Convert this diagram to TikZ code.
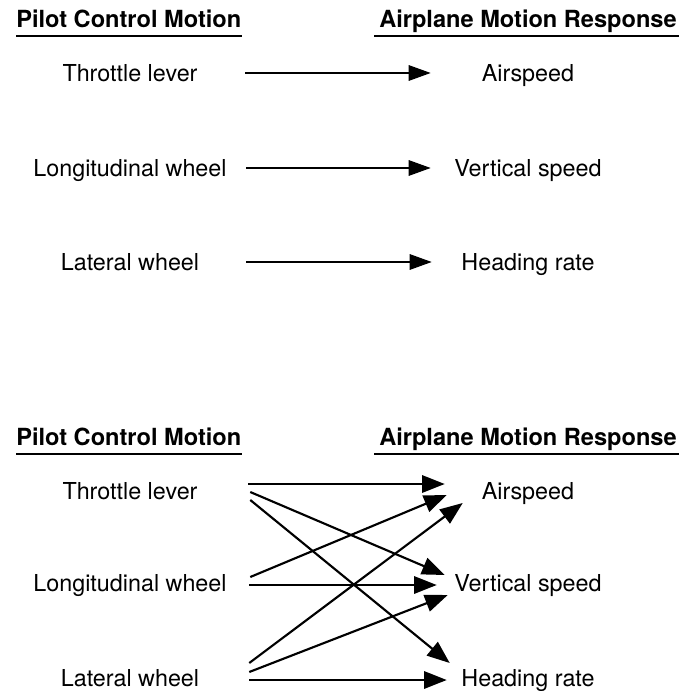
\documentclass[tikz,border=0pt]{standalone}
\usepackage{fontspec}
\setmainfont{TeX Gyre Heros}
\usetikzlibrary{calc,arrows.meta}
\newcommand{\leftcolx}{130}
\newcommand{\rightcolx}{528}
\newcommand{\pcmx}{16}
\newcommand{\hdrtopy}{19}
\newcommand{\rowatop}{73}
\newcommand{\rowbtop}{168}
\newcommand{\rowctop}{262}
\newcommand{\hdrboty}{437}
\newcommand{\rowabot}{491}
\newcommand{\rowbbot}{583}
\newcommand{\rowcbot}{678}

\begin{document}
\begin{tikzpicture}[x=0.75pt,y=-0.75pt]
\tikzstyle{hdr}=[font=\fontsize{17.7}{20}\selectfont\bfseries,inner sep=0pt,text height=13pt,text depth=0pt]
\tikzstyle{ctrl}=[font=\fontsize{17.5}{20}\selectfont,inner sep=0pt,text height=12.6pt,text depth=0pt,minimum width=177pt]
\tikzstyle{resp}=[font=\fontsize{17.5}{20}\selectfont,inner sep=0pt,text height=12.6pt,text depth=0pt,minimum width=124.5pt]
\tikzstyle{uline}=[line width=1.1pt]
\tikzstyle{arr}=[line width=1.5pt,-{Triangle[length=16.5pt,width=11.5pt]}]
\tikzstyle{xarr}=[line width=1.6pt,-{Triangle[length=17pt,width=13pt]}]

\useasboundingbox (0,0) rectangle (682,691);

% one to one coupling
\node (PCM1) [hdr,anchor=west] at (\pcmx,\hdrtopy) {Pilot Control Motion};
\node (AMR1) [hdr] at (\rightcolx,\hdrtopy) {Airplane Motion Response};
\draw[uline] ($(PCM1.south west)+(0,8)$) -- ($(PCM1.south east)+(0,8)$);
\draw[uline] ($(AMR1.south west)+(-5,8)$) -- ($(AMR1.south east)+(2,8)$);

\node (TL1) [ctrl] at (\leftcolx,\rowatop) {Throttle lever};
\node (LW1) [ctrl] at (\leftcolx,\rowbtop) {Longitudinal wheel};
\node (LA1) [ctrl] at (\leftcolx,\rowctop) {Lateral wheel};
\node (AS1) [resp] at (\rightcolx,\rowatop) {Airspeed};
\node (VS1) [resp] at (\rightcolx,\rowbtop) {Vertical speed};
\node (HR1) [resp] at (\rightcolx,\rowctop) {Heading rate};

\draw[arr] ($(TL1.east)+(-3,0)$) -- ($(AS1.west)+(-14,0)$);
\draw[arr] ($(LW1.east)+(-2,0)$) -- ($(VS1.west)+(-14,0)$);
\draw[arr] ($(LA1.east)+(-2,0)$) -- ($(HR1.west)+(-13,0)$);

% cross coupling
\node (PCM2) [hdr,anchor=west] at (\pcmx,\hdrboty) {Pilot Control Motion};
\node (AMR2) [hdr] at (\rightcolx,\hdrboty) {Airplane Motion Response};
\draw[uline] ($(PCM2.south west)+(0,8)$) -- ($(PCM2.south east)+(0,8)$);
\draw[uline] ($(AMR2.south west)+(-5,8)$) -- ($(AMR2.south east)+(2,8)$);

\node (TL2) [ctrl] at (\leftcolx,\rowabot) {Throttle lever};
\node (LW2) [ctrl] at (\leftcolx,\rowbbot) {Longitudinal wheel};
\node (LA2) [ctrl] at (\leftcolx,\rowcbot) {Lateral wheel};
\node (AS2) [resp] at (\rightcolx,\rowabot) {Airspeed};
\node (VS2) [resp] at (\rightcolx,\rowbbot) {Vertical speed};
\node (HR2) [resp] at (\rightcolx,\rowcbot) {Heading rate};

\draw[xarr] ($(TL2.east)+(0,-7)$) -- ($(AS2.west)+(0,-7)$);
\draw[xarr] ($(TL2.east)+(2,1)$) -- ($(VS2.west)+(0,-8)$);
\draw[xarr] ($(TL2.east)+(2,9)$) -- ($(HR2.west)+(5,-15)$);
\draw[xarr] ($(LW2.east)+(2,-6)$) -- ($(AS2.west)+(2,4)$);
\draw[xarr] ($(LW2.east)+(1,2)$) -- ($(VS2.west)+(-8,2)$);
\draw[xarr] ($(LA2.east)+(1,-15)$) -- ($(AS2.west)+(18,12)$);
\draw[xarr] ($(LA2.east)+(1,-6)$) -- ($(VS2.west)+(3,12)$);
\draw[xarr] ($(LA2.east)+(1,2)$) -- ($(HR2.west)+(2,2)$);

\end{tikzpicture}
\end{document}
